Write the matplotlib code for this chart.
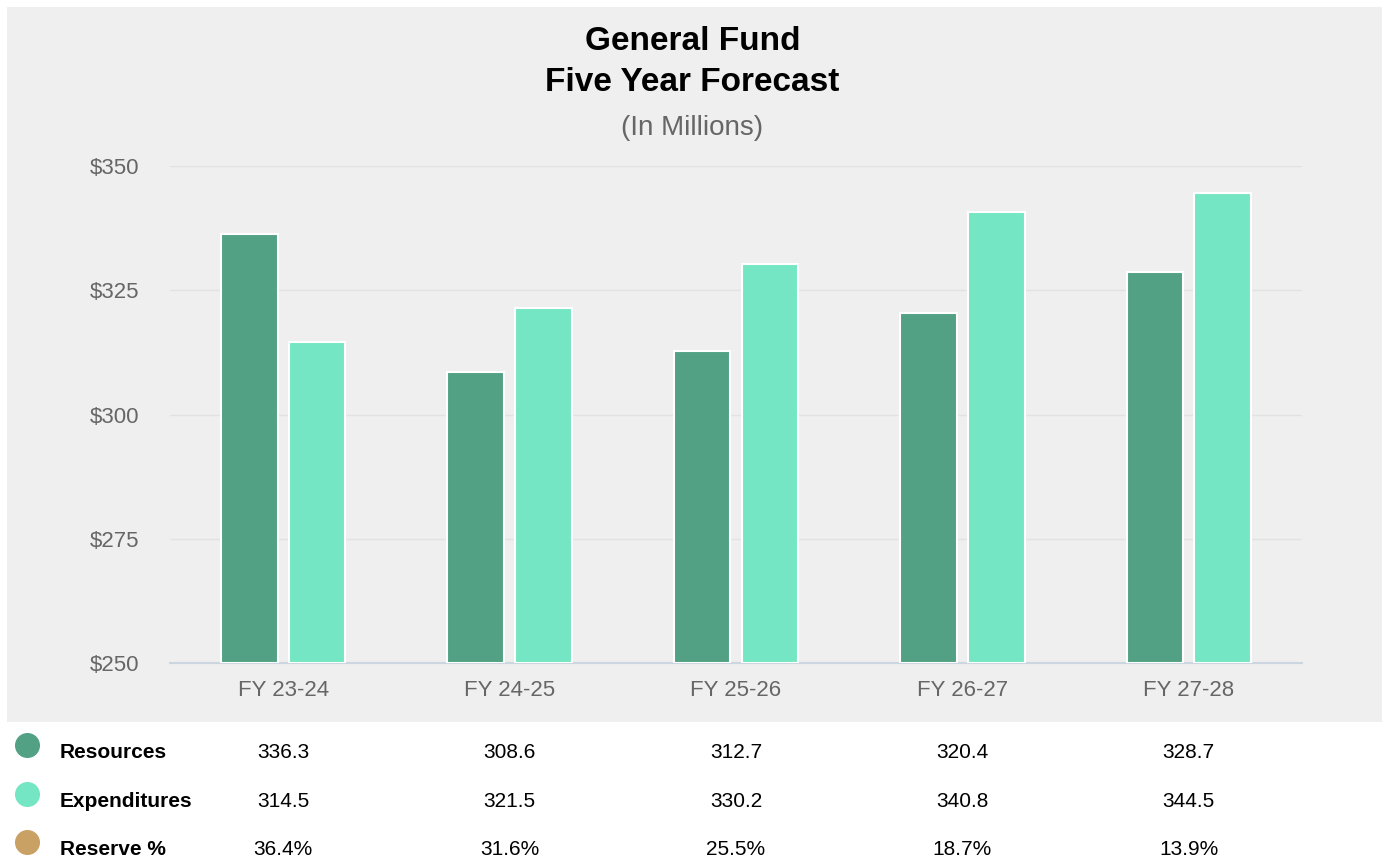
import matplotlib
matplotlib.use("Agg")
import numpy as np
import matplotlib.pyplot as plt
from matplotlib.patches import Rectangle
from matplotlib.lines import Line2D
from matplotlib import transforms

# ---- data ----
categories = ["FY 23-24", "FY 24-25", "FY 25-26", "FY 26-27", "FY 27-28"]
resources = [336.3, 308.6, 312.7, 320.4, 328.7]
expenditures = [314.5, 321.5, 330.2, 340.8, 344.5]
reserve_pct = [36.4, 31.6, 25.5, 18.7, 13.9]
y_ticks = [250, 275, 300, 325, 350]

# ---- colours ----
C_RES = "#52a185"
C_EXP = "#75e6c3"
C_RSV = "#c9a164"
BG = "#efefef"
TXT_GRAY = "#666666"

plt.rcParams["font.family"] = ["Liberation Sans", "DejaVu Sans"]
table_font = ["Liberation Sans Narrow", "Liberation Sans", "DejaVu Sans"]

fig = plt.figure(figsize=(13.85, 8.63), dpi=100)
W, H = 1385, 863

# grey panel behind the chart
fig.add_artist(Rectangle((7 / W, 1 - 722 / H), (1382 - 7) / W, (722 - 7) / H,
                         transform=fig.transFigure, facecolor=BG,
                         edgecolor="none", zorder=-10))

ax = fig.add_axes([170 / W, 1 - 663 / H, (1302 - 170) / W, (663 - 166) / H])
ax.set_facecolor("none")
ax.set_zorder(1)

x = np.arange(len(categories))
off = 0.15
bw = 0.25
ax.bar(x - off, np.array(resources) - 250, bw, bottom=250, color=C_RES,
       edgecolor="white", linewidth=1.5, zorder=3)
ax.bar(x + off, np.array(expenditures) - 250, bw, bottom=250, color=C_EXP,
       edgecolor="white", linewidth=1.5, zorder=3)

ax.set_xlim(-0.5, len(categories) - 0.5)
ax.set_ylim(250, 350)
ax.set_yticks(y_ticks)
ax.set_yticklabels([f"${v}" for v in y_ticks], fontsize=16, color=TXT_GRAY)
ax.set_xticks(x)
ax.set_xticklabels(categories, fontsize=16, color=TXT_GRAY)
ax.tick_params(axis="y", length=0, pad=22)
ax.tick_params(axis="x", length=0, pad=12)
ax.grid(axis="y", color="#e2e2e2", linewidth=1, zorder=0)
ax.set_axisbelow(True)
for s in ["top", "right", "left"]:
    ax.spines[s].set_visible(False)
ax.spines["bottom"].set_color("#ccd6e0")
ax.spines["bottom"].set_linewidth(1.5)

# titles
fig.text(0.5, 1 - 42 / H, "General Fund", ha="center", va="center",
         fontsize=24, fontweight="bold", color="black")
fig.text(0.5, 1 - 82 / H, "Five Year Forecast", ha="center", va="center",
         fontsize=24, fontweight="bold", color="black")
fig.text(0.5, 1 - 128 / H, "(In Millions)", ha="center", va="center",
         fontsize=20, color=TXT_GRAY)

# data table below the chart
trans = transforms.blended_transform_factory(ax.transData, fig.transFigure)
rows = [
    ("Resources", C_RES, [f"{v:.1f}" for v in resources], 752),
    ("Expenditures", C_EXP, [f"{v:.1f}" for v in expenditures], 801),
    ("Reserve %", C_RSV, [f"{v:.1f}%" for v in reserve_pct], 849),
]
for label, col, vals, ypx in rows:
    yf = 1 - ypx / H
    fig.add_artist(Line2D([27 / W], [yf + 7 / H], marker="o", markersize=17,
                          color=col, linestyle="none", transform=fig.transFigure))
    fig.text(60 / W, yf, label, ha="left", va="center", fontsize=15,
             fontweight="bold", color="black", family=table_font)
    for xi, v in zip(x, vals):
        ax.text(xi, yf, v, ha="center", va="center", fontsize=15,
                color="black", family=table_font, transform=trans)

fig.savefig("out.png", dpi=100)
